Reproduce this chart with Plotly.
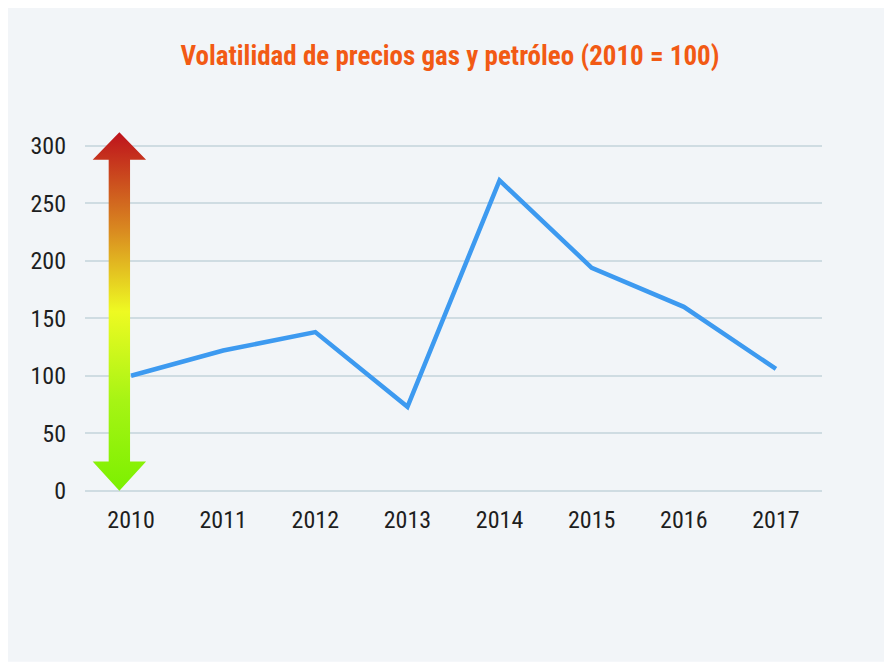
import plotly.graph_objects as go

# --- Data ---
years = ['2010', '2011', '2012', '2013', '2014', '2015', '2016', '2017']
volatility = [100, 122, 138, 73, 270, 194, 160, 106]
y_ticks = [0, 50, 100, 150, 200, 250, 300]

# decorative up/down arrow along the left of the chart (data units)
arrow_cx = -0.127
arrow_head_w = 0.29
arrow_shaft_w = 0.116
arrow_top, arrow_head_top_base = 312, 288
arrow_head_bot_base, arrow_bot = 25.5, 0

panel_color = '#F2F5F8'
grid_color = '#CFDCE2'
line_color = '#3D9AF0'
title_color = '#F25A14'
text_color = '#1E1E1E'
narrow_font = 'Liberation Sans Narrow, Roboto Condensed, Arial Narrow, sans-serif'

fig = go.Figure()

fig.add_trace(go.Scatter(
    x=years, y=volatility,
    mode='lines',
    line=dict(color=line_color, width=4.5),
    hoverinfo='x+y',
))

# arrow polygon, x as numeric category positions
ax = [arrow_cx, arrow_cx + arrow_head_w, arrow_cx + arrow_shaft_w, arrow_cx + arrow_shaft_w,
      arrow_cx + arrow_head_w, arrow_cx, arrow_cx - arrow_head_w, arrow_cx - arrow_shaft_w,
      arrow_cx - arrow_shaft_w, arrow_cx - arrow_head_w, arrow_cx]
ay = [arrow_top, arrow_head_top_base, arrow_head_top_base, arrow_head_bot_base,
      arrow_head_bot_base, arrow_bot, arrow_head_bot_base, arrow_head_bot_base,
      arrow_head_top_base, arrow_head_top_base, arrow_top]

fig.add_trace(go.Scatter(
    x=ax, y=ay,
    mode='lines',
    fill='toself',
    line=dict(width=0),
    fillgradient=dict(
        type='vertical',
        colorscale=[
            [0.0, '#7CF000'],
            [0.25, '#A6F414'],
            [0.5, '#EEFA22'],
            [0.73, '#D98820'],
            [1.0, '#BE121C'],
        ],
    ),
    hoverinfo='skip',
    xaxis='x2',
))

# page has an 8px body margin, so the figure is sized/offset to compensate
fig.update_layout(
    width=884,
    height=659,
    paper_bgcolor='white',
    plot_bgcolor='rgba(0,0,0,0)',
    showlegend=False,
    margin=dict(l=77, r=70, t=123, b=174),
    title=dict(
        text='<b>Volatilidad de precios gas y petróleo (2010 = 100)</b>',
        font=dict(family=narrow_font, size=27, color=title_color),
        x=0.5, xanchor='center',
        y=1 - 48 / 659, yanchor='middle',
    ),
    xaxis=dict(
        type='category',
        range=[-0.5, 7.5],
        showgrid=False,
        zeroline=False,
        showline=False,
        ticks='',
        ticklabelstandoff=10,
        tickfont=dict(family=narrow_font, size=24, color=text_color),
        fixedrange=True,
    ),
    xaxis2=dict(
        overlaying='x',
        range=[-0.5, 7.5],
        visible=False,
        fixedrange=True,
    ),
    yaxis=dict(
        range=[-2, 313],
        tickvals=y_ticks,
        showgrid=True,
        gridcolor=grid_color,
        gridwidth=2,
        zeroline=False,
        showline=False,
        ticks='',
        ticklabelstandoff=18,
        tickfont=dict(family=narrow_font, size=24, color=text_color),
        fixedrange=True,
    ),
    shapes=[dict(
        type='rect', xref='paper', yref='paper', layer='below',
        x0=-77 / 737, x1=(878 - 77) / 737,
        y0=(485.3 - 654) / 362, y1=485.3 / 362,
        fillcolor=panel_color, line=dict(width=0),
    )],
)

fig.write_html('out.html')
